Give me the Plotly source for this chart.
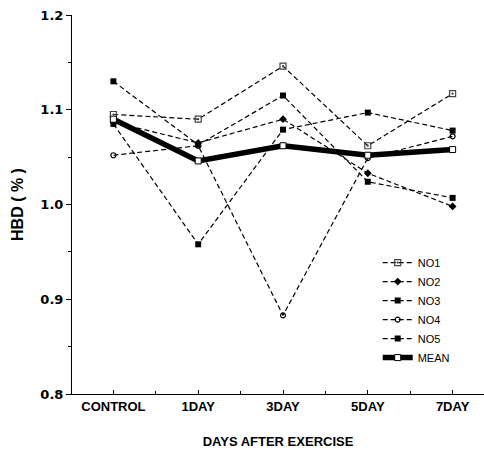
import plotly.graph_objects as go

# Sampling days and HBD readings (%) for each subject
days = ["CONTROL", "1DAY", "3DAY", "5DAY", "7DAY"]
no1 = [1.095, 1.090, 1.146, 1.062, 1.117]
no2 = [1.087, 1.065, 1.090, 1.033, 0.998]
no3 = [1.085, 0.958, 1.079, 1.097, 1.078]
no4 = [1.052, 1.062, 0.883, 1.049, 1.072]
no5 = [1.130, 1.063, 1.115, 1.024, 1.007]
mean = [1.090, 1.046, 1.062, 1.052, 1.058]

y_ticks = [0.8, 0.9, 1.0, 1.1, 1.2]
y_tick_text = ["0.8", "0.9", "1.0", "1.1", "1.2"]

xpos = list(range(len(days)))

subjects = [
    ("NO1", no1, dict(symbol="square-open-dot", size=6, color="#444", line=dict(width=1.2, color="#222"))),
    ("NO2", no2, dict(symbol="diamond", size=6, color="black")),
    ("NO3", no3, dict(symbol="square", size=6, color="black")),
    ("NO4", no4, dict(symbol="circle-open", size=5, color="black", line=dict(width=1.2))),
    ("NO5", no5, dict(symbol="square", size=6, color="black")),
]

fig = go.Figure()
for name, vals, mk in subjects:
    fig.add_trace(go.Scatter(
        x=xpos, y=vals, name=name, mode="lines+markers",
        line=dict(color="black", width=1.2, dash="5px,3px"),
        marker=mk,
    ))

fig.add_trace(go.Scatter(
    x=xpos, y=mean, name="MEAN", mode="lines+markers",
    line=dict(color="black", width=5.5),
    marker=dict(symbol="square", size=6, color="white", line=dict(color="black", width=1)),
))

fig.update_layout(
    width=484, height=453,
    margin=dict(l=72, r=0, t=15, b=59),
    paper_bgcolor="white", plot_bgcolor="white",
    font=dict(family="Liberation Sans", color="black"),
    showlegend=True,
    legend=dict(
        x=0.742, y=0.385, xanchor="left", yanchor="top",
        bgcolor="rgba(0,0,0,0)", borderwidth=0,
        font=dict(family="Liberation Sans", size=11, color="black"),
        tracegroupgap=0,
    ),
    xaxis=dict(
        range=[-0.488, 4.37],
        tickmode="array", tickvals=xpos, ticktext=days,
        tickfont=dict(family="Liberation Sans", size=13, color="black", weight="bold"),
        ticks="inside", ticklen=4, tickwidth=1, tickcolor="black",
        minor=dict(tickmode="linear", tick0=0.5, dtick=1, ticks="inside", ticklen=3, tickcolor="black"),
        showline=True, linecolor="black", linewidth=1,
        showgrid=False, zeroline=False,
        title=dict(text="DAYS AFTER EXERCISE", standoff=24,
                   font=dict(family="Liberation Sans", size=13, color="black", weight="bold")),
    ),
    yaxis=dict(
        range=[0.8, 1.2],
        tickmode="array", tickvals=y_ticks, ticktext=y_tick_text,
        tickfont=dict(family="DejaVu Sans", size=13, color="black", weight="bold"),
        ticks="outside", ticklen=5, tickwidth=1, tickcolor="black",
        minor=dict(tickmode="linear", tick0=0.85, dtick=0.1, ticks="outside", ticklen=3, tickcolor="black"),
        showline=True, linecolor="black", linewidth=1,
        showgrid=False, zeroline=False,
        title=dict(text="HBD ( % )", standoff=12,
                   font=dict(family="Liberation Sans", size=16, color="black", weight="bold")),
    ),
)

fig.write_html("out.html")
